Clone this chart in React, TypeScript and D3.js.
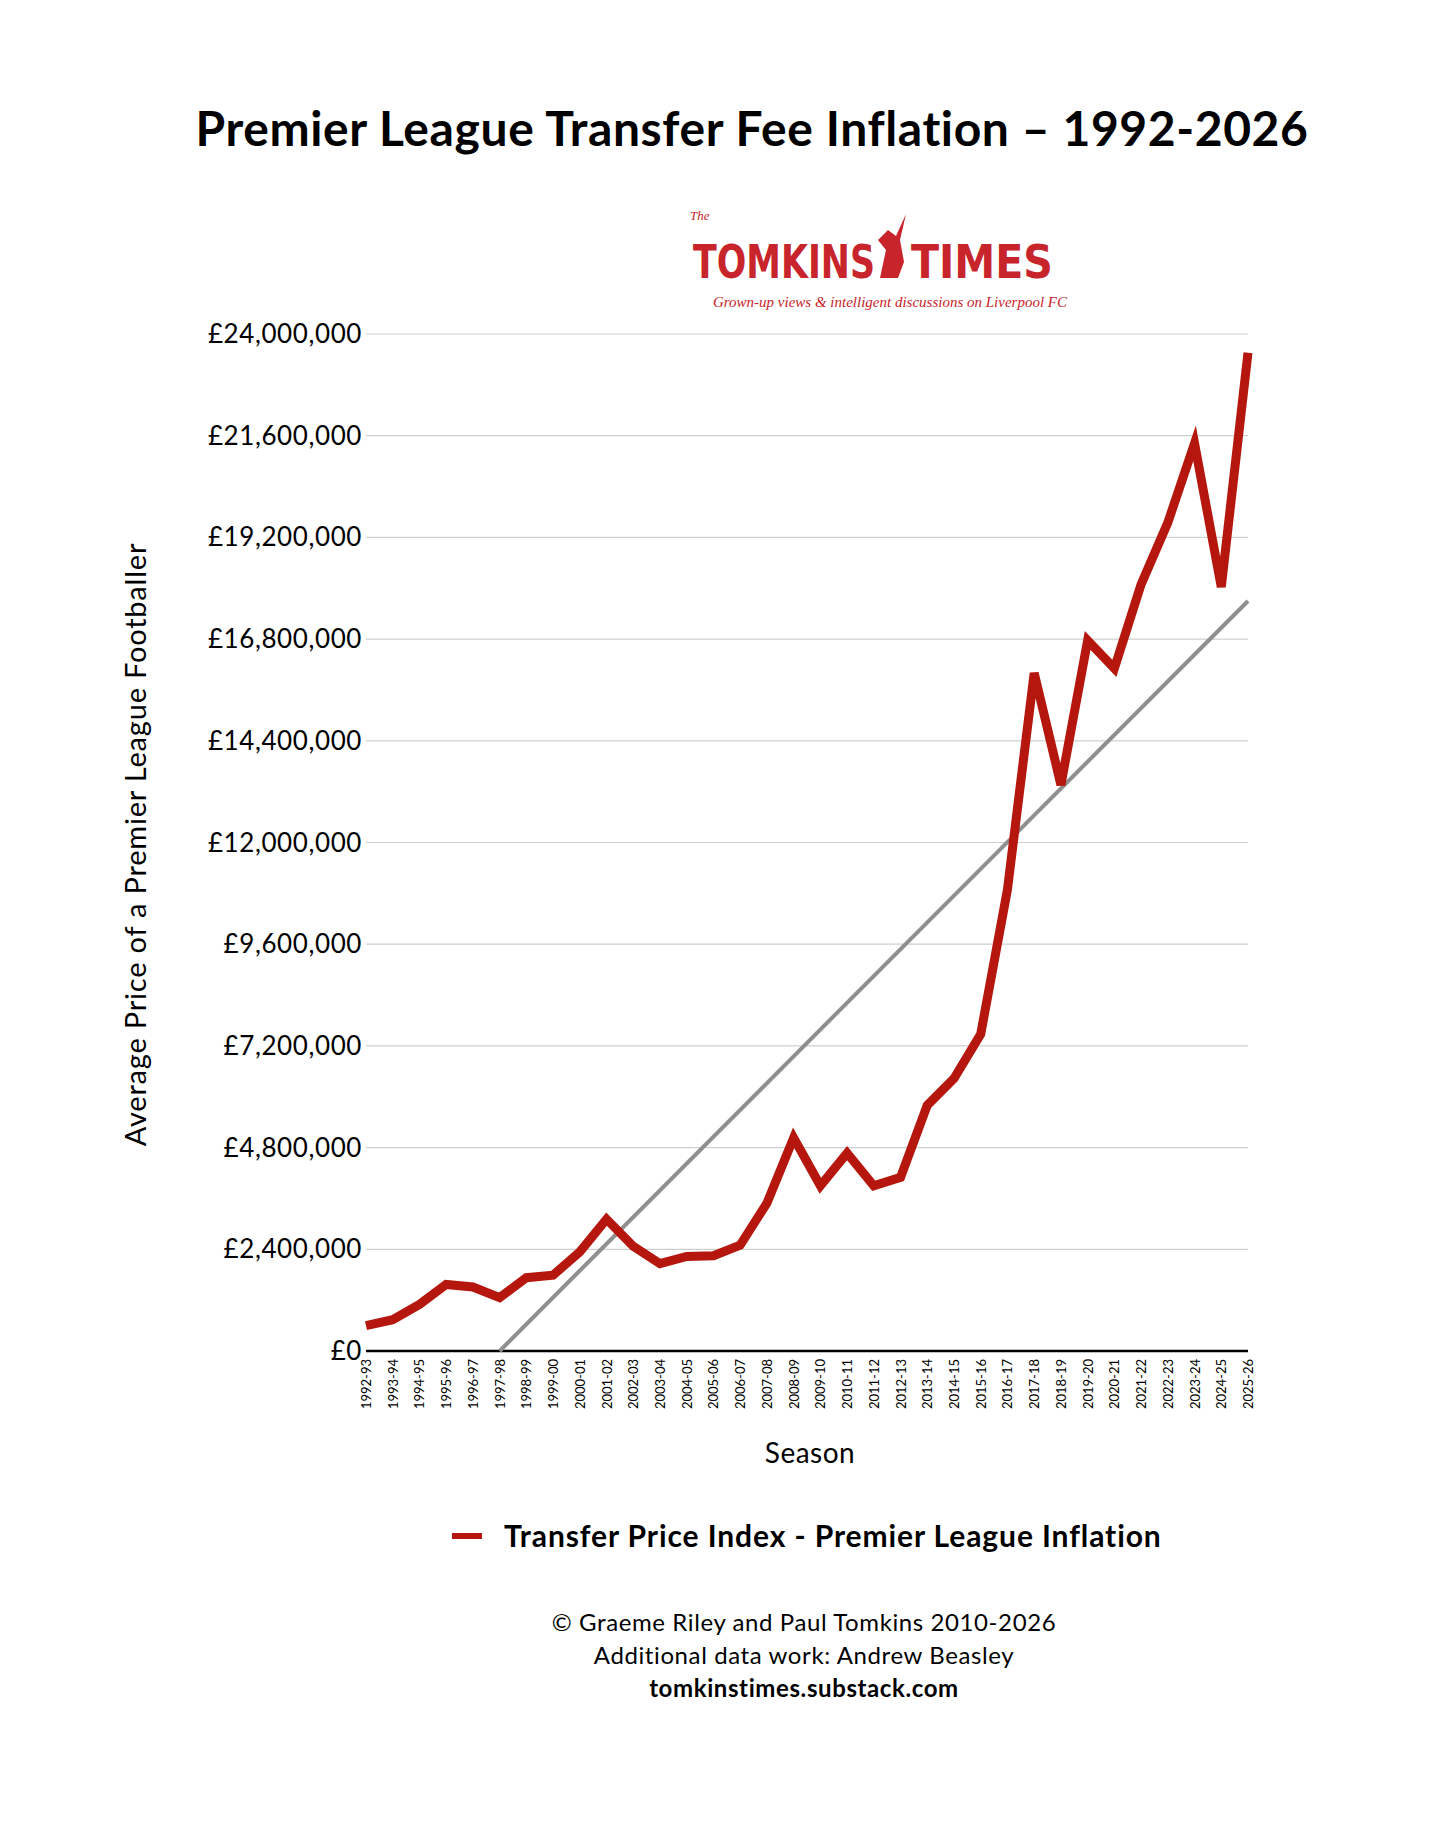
import * as d3 from 'd3';
import {useEffect, useRef} from 'react';

const seasons = [
    '1992-93', '1993-94', '1994-95', '1995-96', '1996-97', '1997-98', '1998-99', '1999-00',
    '2000-01', '2001-02', '2002-03', '2003-04', '2004-05', '2005-06', '2006-07', '2007-08',
    '2008-09', '2009-10', '2010-11', '2011-12', '2012-13', '2013-14', '2014-15', '2015-16',
    '2016-17', '2017-18', '2018-19', '2019-20', '2020-21', '2021-22', '2022-23', '2023-24',
    '2024-25', '2025-26',
];

// average price, £ millions
const avgPrice = [
    0.6, 0.74, 1.1, 1.57, 1.51, 1.26, 1.73, 1.79, 2.34, 3.11, 2.47, 2.06, 2.23, 2.25, 2.5, 3.49,
    5.03, 3.9, 4.67, 3.9, 4.1, 5.8, 6.43, 7.48, 10.89, 16.0, 13.36, 16.77, 16.11, 18.09, 19.55,
    21.42, 18.03, 23.56,
];

// trend line: [season index, £m]
const trend: [number, number][] = [
    [5, 0],
    [33, 17.7],
];

const yTicks = [0, 2.4, 4.8, 7.2, 9.6, 12, 14.4, 16.8, 19.2, 21.6, 24];

const width = 1456;
const height = 1827;
const margins = {top: 334, right: 208, bottom: 476, left: 366};

const App = () => {
    const ref = useRef(null);

    useEffect(() => {
        const svg = d3.select(ref.current);
        svg.selectAll('*').remove();

        const x = d3
            .scalePoint<number>()
            .domain(d3.range(seasons.length))
            .range([margins.left, width - margins.right]);
        const y = d3
            .scaleLinear()
            .domain([0, 24])
            .range([height - margins.bottom, margins.top]);

        const font = 'Lato, "Open Sans", sans-serif';

        svg.append('text')
            .attr('x', 752)
            .attr('y', 146)
            .attr('text-anchor', 'middle')
            .attr('font-family', font)
            .attr('font-weight', 700)
            .attr('font-size', 48)
            .attr('letter-spacing', 0.6)
            .text('Premier League Transfer Fee Inflation – 1992-2026');

        // logo
        const logo = svg.append('g').attr('fill', '#c8242b');
        const cond = '"DejaVu Sans Condensed", "DejaVu Sans", sans-serif';
        logo.append('text')
            .attr('x', 690).attr('y', 220)
            .attr('font-family', 'Liberation Serif, serif')
            .attr('font-style', 'italic')
            .attr('font-size', 13)
            .text('The');
        logo.append('text')
            .attr('x', 784).attr('y', 278)
            .attr('text-anchor', 'middle')
            .attr('font-family', cond)
            .attr('font-stretch', 'condensed')
            .attr('font-weight', 700)
            .attr('font-size', 46)
            .attr('textLength', 182)
            .attr('lengthAdjust', 'spacingAndGlyphs')
            .text('TOMKINS');
        logo.append('text')
            .attr('x', 982).attr('y', 278)
            .attr('text-anchor', 'middle')
            .attr('font-family', cond)
            .attr('font-stretch', 'condensed')
            .attr('font-weight', 700)
            .attr('font-size', 46)
            .attr('textLength', 142)
            .attr('lengthAdjust', 'spacingAndGlyphs')
            .text('TIMES');
        logo.append('path')
            .attr('d', 'M880,278 L886,250 L878,240 L888,230 L896,236 L906,214 L900,240 L904,262 L898,278 Z');
        logo.append('text')
            .attr('x', 890).attr('y', 307)
            .attr('text-anchor', 'middle')
            .attr('font-family', 'Liberation Serif, serif')
            .attr('font-style', 'italic')
            .attr('font-size', 15)
            .text('Grown-up views & intelligent discussions on Liverpool FC');

        // grid + y labels
        const grid = svg.append('g');
        yTicks.forEach((t) => {
            if (t > 0) {
                grid.append('line')
                    .attr('x1', margins.left).attr('x2', width - margins.right)
                    .attr('y1', y(t)).attr('y2', y(t))
                    .attr('stroke', '#cfcfcf').attr('stroke-width', 1.2);
            }
            grid.append('text')
                .attr('x', margins.left - 4).attr('y', y(t) + 9)
                .attr('text-anchor', 'end')
                .attr('font-family', font)
                .attr('font-size', 26)
                .attr('letter-spacing', 0.6)
                .text('£' + d3.format(',')(Math.round(t * 1e6)));
        });

        svg.append('line')
            .attr('x1', margins.left).attr('x2', width - margins.right)
            .attr('y1', y(0)).attr('y2', y(0))
            .attr('stroke', '#000').attr('stroke-width', 2.5);

        const xl = svg.append('g');
        seasons.forEach((s, i) => {
            xl.append('text')
                .attr('transform', `translate(${x(i)! + 5}, ${y(0) + 8}) rotate(-90)`)
                .attr('text-anchor', 'end')
                .attr('font-family', font)
                .attr('font-size', 13)
                .text(s);
        });

        const line = d3
            .line<[number, number]>()
            .x((d) => x(d[0])!)
            .y((d) => y(d[1]));

        svg.append('path')
            .attr('d', line(trend))
            .attr('fill', 'none')
            .attr('stroke', '#8f8f8f')
            .attr('stroke-width', 4);

        svg.append('path')
            .attr('d', line(avgPrice.map((v, i) => [i, v] as [number, number])))
            .attr('fill', 'none')
            .attr('stroke', '#b5170e')
            .attr('stroke-width', 9)
            .attr('stroke-linejoin', 'miter');

        svg.append('text')
            .attr('transform', `translate(146, ${(y(0) + y(24)) / 2 + 2}) rotate(-90)`)
            .attr('text-anchor', 'middle')
            .attr('font-family', font)
            .attr('font-size', 29)
            .attr('letter-spacing', 0.8)
            .text('Average Price of a Premier League Footballer');

        svg.append('text')
            .attr('x', 810).attr('y', 1463)
            .attr('text-anchor', 'middle')
            .attr('font-family', font)
            .attr('font-size', 28)
            .attr('letter-spacing', 0.5)
            .text('Season');

        svg.append('line')
            .attr('x1', 452).attr('x2', 482).attr('y1', 1536).attr('y2', 1536)
            .attr('stroke', '#b5170e').attr('stroke-width', 6);
        svg.append('text')
            .attr('x', 504).attr('y', 1547)
            .attr('font-family', font)
            .attr('font-weight', 700)
            .attr('font-size', 30)
            .attr('letter-spacing', 0.9)
            .text('Transfer Price Index - Premier League Inflation');

        const foot = ['© Graeme Riley and Paul Tomkins 2010-2026', 'Additional data work: Andrew Beasley', 'tomkinstimes.substack.com'];
        foot.forEach((f, i) => {
            svg.append('text')
                .attr('x', 804).attr('y', 1631 + i * 33)
                .attr('text-anchor', 'middle')
                .attr('font-family', font)
                .attr('font-weight', i === 2 ? 700 : 400)
                .attr('font-size', 24)
                .attr('letter-spacing', 0.6)
                .text(f);
        });
    }, []);

    return (
        <svg
            ref={ref}
            width={width}
            height={height}
            style={{position: 'absolute', left: 0, top: 0, background: '#fff'}}
        ></svg>
    );
};

export default App;
